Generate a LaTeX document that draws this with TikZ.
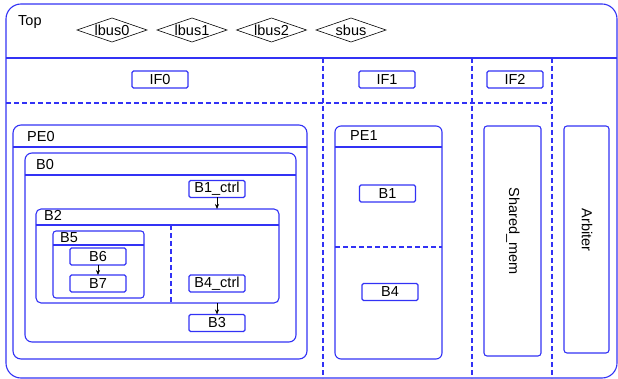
\documentclass[tikz,border=0pt]{standalone}
\usepackage{fontspec}
\setmainfont{Liberation Sans}
\usetikzlibrary{shapes.geometric,arrows.meta}
\definecolor{lb}{RGB}{50,50,245}
\tikzset{
  cont/.style={draw=lb, line width=1.1pt, inner sep=0pt, outer sep=0pt},
  sbox/.style={draw=lb, line width=1.1pt, rounded corners=1.5pt, minimum width=56pt, minimum height=17pt, inner sep=0pt, outer sep=0pt},
  bus/.style={diamond, draw=black, line width=0.6pt, minimum width=70pt, minimum height=24pt, inner sep=0pt, outer sep=0pt},
  lab/.style={inner sep=0pt, anchor=base west},
  sepl/.style={draw=lb, line width=1.1pt},
  dsep/.style={draw=lb, line width=1.1pt, dash pattern=on 5pt off 3pt},
  arr/.style={draw=black, line width=0.6pt, -{Stealth[length=5pt,width=4pt]}},
  txt/.style={inner sep=0pt}
}
\begin{document}
\begin{tikzpicture}[x=1pt,y=-1pt, font=\fontsize{14.5}{16}\selectfont]
\useasboundingbox (0,0) rectangle (618,379);
% outer container
\node[cont, rounded corners=15pt, minimum width=611pt, minimum height=374pt] (Top) at (311.5,191) {};
\node[lab] (TopL) at (18,26) {Top};
\draw[sepl] (Top.west |- 0,58) -- (Top.east |- 0,58);
\draw[dsep] (Top.west |- 0,103) -- (552,103);
\coordinate (v1t) at (323,58); \coordinate (v1b) at (323,378);
\coordinate (v2t) at (472,58); \coordinate (v2b) at (472,378);
\coordinate (v3t) at (552,58); \coordinate (v3b) at (552,378);
\draw[dsep] (v1t) -- (v1b);
\draw[dsep] (v2t) -- (v2b);
\draw[dsep] (v3t) -- (v3b);
% buses
\node[bus] (lbus0) at (112,30) {}; \node[txt] (lbus0t) at (lbus0) {lbus0};
\node[bus] (lbus1) at (192,30) {}; \node[txt] (lbus1t) at (lbus1) {lbus1};
\node[bus] (lbus2) at (271.5,30) {}; \node[txt] (lbus2t) at (lbus2) {lbus2};
\node[bus] (sbus) at (351,30) {}; \node[txt] (sbust) at (sbus) {sbus};
% interfaces
\node[sbox] (IF0) at (160,79.5) {IF0};
\node[sbox] (IF1) at (387,79.5) {IF1};
\node[sbox] (IF2) at (515,79.5) {IF2};
% PE0
\node[cont, rounded corners=8pt, minimum width=294pt, minimum height=234pt] (PE0) at (160,242) {};
\node[lab] (PE0L) at (27,142) {PE0};
\draw[sepl] (PE0.west |- 0,147) -- (PE0.east |- 0,147);
\node[cont, rounded corners=7pt, minimum width=271pt, minimum height=189pt] (B0) at (160.5,247.5) {};
\node[lab] (B0L) at (36,170) {B0};
\draw[sepl] (B0.west |- 0,175) -- (B0.east |- 0,175);
\node[sbox] (B1ctrl) at (217,189) {B1\_ctrl};
\node[cont, rounded corners=5pt, minimum width=243pt, minimum height=94pt] (B2) at (157.5,256) {};
\node[lab] (B2L) at (44,221) {B2};
\draw[sepl] (B2.west |- 0,225) -- (B2.east |- 0,225);
\coordinate (b2dt) at (171,225); \coordinate (b2db) at (171,303);
\draw[dsep] (b2dt) -- (b2db);
\node[cont, rounded corners=3pt, minimum width=91pt, minimum height=67pt] (B5) at (98.5,264.5) {};
\node[lab] (B5L) at (60,243) {B5};
\draw[sepl] (B5.west |- 0,245) -- (B5.east |- 0,245);
\node[sbox] (B6) at (98,256.5) {B6};
\node[sbox] (B7) at (98,283.5) {B7};
\node[sbox] (B4ctrl) at (217,283.5) {B4\_ctrl};
\node[sbox] (B3) at (217,323) {B3};
\draw[arr] (B1ctrl.south) -- (B1ctrl.south |- B2.north);
\draw[arr] (B6.south) -- (B7.north);
\draw[arr] (B3.north |- B2.south) -- (B3.north);
% PE1
\node[cont, rounded corners=6pt, minimum width=107pt, minimum height=233pt] (PE1) at (388.5,242.5) {};
\node[lab] (PE1L) at (350,141) {PE1};
\draw[sepl] (PE1.west |- 0,147) -- (PE1.east |- 0,147);
\draw[dsep] (PE1.west |- 0,247) -- (PE1.east |- 0,247);
\node[sbox] (B1) at (387.5,193.5) {B1};
\node[sbox] (B4) at (390,292) {B4};
% Shared_mem and Arbiter
\node[cont, rounded corners=3pt, minimum width=57pt, minimum height=230pt] (SM) at (512.5,241) {};
\node[txt, rotate=-90] (SMt) at (513,231) {Shared\_mem};
\node[cont, rounded corners=3pt, minimum width=45pt, minimum height=227pt] (AR) at (586.5,239.5) {};
\node[txt, rotate=-90] (ARt) at (587,230) {Arbiter};
\end{tikzpicture}
\end{document}
